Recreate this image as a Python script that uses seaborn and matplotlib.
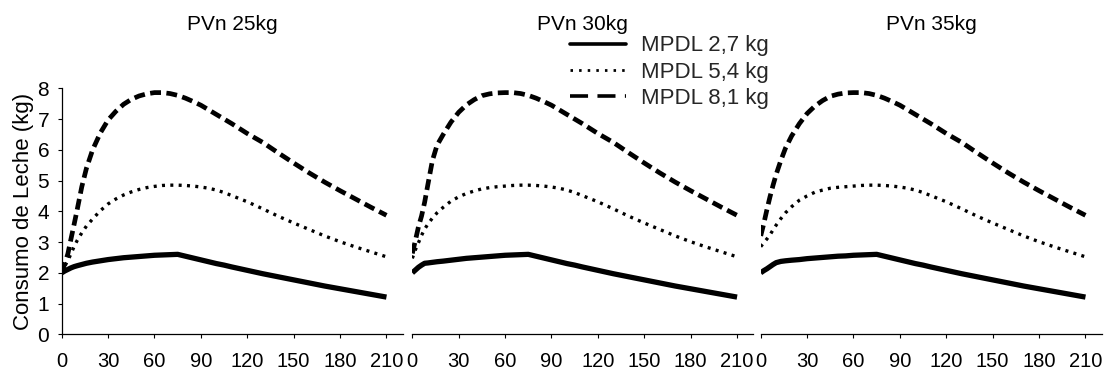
import numpy as np
import pandas as pd
import seaborn as sns
import matplotlib
matplotlib.use("Agg")
import matplotlib.pyplot as plt
from matplotlib.lines import Line2D

# ---------------- data ----------------
panel_titles = ["PVn 25kg", "PVn 30kg", "PVn 35kg"]
series_labels = ["MPDL 2,7 kg", "MPDL 5,4 kg", "MPDL 8,1 kg"]

days_rise = [0, 2, 4, 6, 8, 10, 13, 16, 20, 25, 30, 35, 40, 45, 50, 55, 60, 65, 70]
days_tail = [75, 80, 85, 90, 95, 100, 105, 110, 120, 130, 140, 150, 160, 170, 180, 190, 200, 210]

# rising part (days 0-70) per panel
p25_mpdl27 = [2.00, 2.06, 2.11, 2.16, 2.20, 2.23, 2.27, 2.31, 2.35, 2.39, 2.43, 2.46, 2.49, 2.51, 2.53, 2.55, 2.57, 2.58, 2.59]
p25_mpdl54 = [2.00, 2.22, 2.40, 2.62, 2.85, 3.05, 3.30, 3.52, 3.75, 4.02, 4.24, 4.40, 4.53, 4.63, 4.71, 4.77, 4.81, 4.84, 4.85]
p25_mpdl81 = [2.00, 2.30, 2.62, 3.10, 3.57, 4.05, 4.80, 5.40, 6.00, 6.55, 6.97, 7.25, 7.48, 7.64, 7.75, 7.82, 7.86, 7.86, 7.83]

p30_mpdl27 = [2.00, 2.09, 2.18, 2.25, 2.31, 2.32, 2.34, 2.36, 2.38, 2.41, 2.44, 2.47, 2.49, 2.51, 2.53, 2.55, 2.57, 2.58, 2.59]
p30_mpdl54 = [2.47, 2.75, 2.98, 3.22, 3.42, 3.58, 3.78, 3.95, 4.13, 4.33, 4.47, 4.58, 4.66, 4.73, 4.77, 4.80, 4.82, 4.84, 4.85]
p30_mpdl81 = [2.63, 3.05, 3.50, 3.85, 4.30, 4.85, 5.65, 6.15, 6.50, 6.90, 7.22, 7.46, 7.63, 7.76, 7.82, 7.85, 7.86, 7.86, 7.83]

p35_mpdl27 = [2.00, 2.07, 2.13, 2.20, 2.27, 2.33, 2.37, 2.39, 2.41, 2.43, 2.46, 2.48, 2.50, 2.52, 2.54, 2.55, 2.57, 2.58, 2.59]
p35_mpdl54 = [2.85, 2.98, 3.10, 3.23, 3.40, 3.55, 3.76, 3.95, 4.15, 4.36, 4.50, 4.62, 4.69, 4.75, 4.78, 4.80, 4.82, 4.84, 4.85]
p35_mpdl81 = [3.20, 3.60, 4.05, 4.47, 4.85, 5.20, 5.65, 6.05, 6.45, 6.85, 7.18, 7.42, 7.60, 7.74, 7.81, 7.85, 7.86, 7.86, 7.83]

# declining part (days 75-210), common to the three panels
tail_mpdl27 = [2.60, 2.54, 2.48, 2.42, 2.36, 2.30, 2.25, 2.19, 2.08, 1.97, 1.87, 1.77, 1.67, 1.57, 1.48, 1.39, 1.30, 1.21]
tail_mpdl54 = [4.85, 4.84, 4.82, 4.79, 4.75, 4.69, 4.61, 4.51, 4.31, 4.08, 3.84, 3.62, 3.41, 3.20, 3.01, 2.84, 2.68, 2.52]
tail_mpdl81 = [7.77, 7.68, 7.57, 7.45, 7.30, 7.15, 7.00, 6.85, 6.53, 6.24, 5.90, 5.57, 5.25, 4.95, 4.67, 4.40, 4.13, 3.87]

x_ticks = [0, 30, 60, 90, 120, 150, 180, 210]
y_ticks = [0, 1, 2, 3, 4, 5, 6, 7, 8]

rise = {
    "PVn 25kg": [p25_mpdl27, p25_mpdl54, p25_mpdl81],
    "PVn 30kg": [p30_mpdl27, p30_mpdl54, p30_mpdl81],
    "PVn 35kg": [p35_mpdl27, p35_mpdl54, p35_mpdl81],
}
tails = [tail_mpdl27, tail_mpdl54, tail_mpdl81]

# ---------------- style ----------------
sns.set_theme(style="white")
plt.rcParams["font.family"] = ["Liberation Sans", "DejaVu Sans"]

fig = plt.figure(figsize=(11.12, 3.72), dpi=100)

lefts = [61.7 / 1112, 412.3 / 1112, 760.7 / 1112]
width = 341 / 1112
bottom = 37.7 / 372
height = 246.0 / 372

styles = [
    dict(linestyle="-", linewidth=3.8),
    dict(linestyle=(0, (0.9, 1.6)), linewidth=2.4),
    dict(linestyle=(0, (2.3, 1.15)), linewidth=3.4),
]

for i, title in enumerate(panel_titles):
    ax = fig.add_axes([lefts[i], bottom, width, height])
    for j in range(3):
        xs = days_rise + days_tail
        ys = rise[title][j] + tails[j]
        sns.lineplot(x=xs, y=ys, ax=ax, color="black", sort=False,
                     estimator=None, solid_capstyle="butt", **styles[j])
    ax.set_xlim(0, 220.5)
    ax.set_ylim(0, 8)
    ax.set_xticks(x_ticks)
    ax.set_xticklabels([str(v) for v in x_ticks], fontsize=14.5)
    ax.tick_params(axis="x", direction="out", length=3, width=0.8, pad=10,
                   bottom=True, color="black", labelcolor="black")
    for s in ["top", "right"]:
        ax.spines[s].set_visible(False)
    ax.spines["bottom"].set_color("black")
    ax.spines["bottom"].set_linewidth(0.9)
    if i == 0:
        ax.set_yticks(y_ticks)
        ax.set_yticklabels([str(v) for v in y_ticks], fontsize=15)
        ax.tick_params(axis="y", direction="out", length=3, width=0.8, pad=6,
                       left=True, color="black", labelcolor="black")
        ax.spines["left"].set_color("black")
        ax.spines["left"].set_linewidth(0.9)
        ax.set_ylabel("Consumo de Leche (kg)", fontsize=16, color="black")
        ax.yaxis.set_label_coords(-0.08, 0.5)
    else:
        ax.spines["left"].set_visible(False)
        ax.set_yticks([])
        ax.set_ylabel("")
    ax.set_xlabel("")
    ax.set_title(title, fontsize=15, pad=42, color="black")
    ax.grid(False)
    if ax.get_legend() is not None:
        ax.get_legend().remove()

handles = [
    Line2D([0], [0], color="black", linestyle="-", linewidth=2.6),
    Line2D([0], [0], color="black", linestyle=(0, (0.9, 2.2)), linewidth=2.0),
    Line2D([0], [0], color="black", linestyle=(0, (5.0, 2.6)), linewidth=2.6),
]
fig.legend(handles, series_labels, loc="upper left",
           bbox_to_anchor=(570 / 1112, 1 - 35.5 / 372), frameon=False,
           fontsize=16, handlelength=2.5, handletextpad=0.7,
           labelspacing=0.23, borderpad=0, borderaxespad=0)

fig.savefig("out.png", dpi=100)
